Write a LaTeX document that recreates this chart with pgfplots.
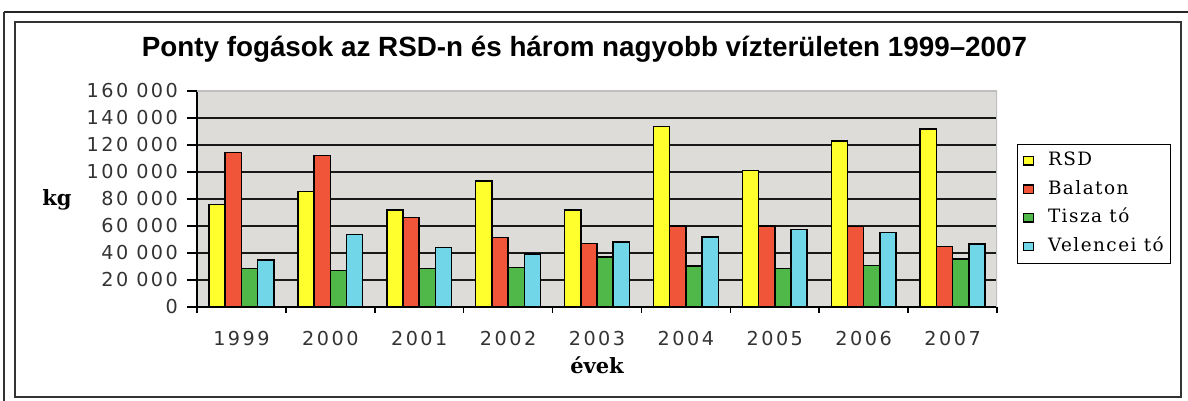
\documentclass[border=0pt]{standalone}
\usepackage{pgfplots}
\pgfplotsset{compat=1.18}
\usepackage{fontspec}
\setmainfont{DejaVu Serif}
\newfontfamily\tickfont[LetterSpace=13]{DejaVu Sans}
\newfontfamily\titlefont{Liberation Sans}
\newfontfamily\legfont[LetterSpace=8]{DejaVu Serif}
\definecolor{cY}{RGB}{255,255,46}
\definecolor{cR}{RGB}{240,85,58}
\definecolor{cG}{RGB}{80,184,72}
\definecolor{cC}{RGB}{112,214,232}
\definecolor{bg}{RGB}{222,220,216}
\newcommand\tsp{\hspace{4pt}}
\pgfplotsset{myleg/.style={legend image code/.code={\draw[##1,line width=0.7pt] (0pt,-1.9pt) rectangle (5pt,2.3pt);}}}
\begin{document}
\begin{tikzpicture}
\begin{axis}[
  at={(98.5pt,47pt)}, anchor=south west,
  scale only axis, width=400pt, height=108pt,
  ymin=0, ymax=160000, xmin=-0.5, xmax=8.5,
  ybar=0pt, bar width=8.1pt,
  axis x line*=bottom, axis y line*=left,
  axis line style={line width=0.8pt,-},
  axis background/.style={fill=bg},
  tick align=outside,
  major tick length=5pt, minor tick length=3pt,
  scaled y ticks=false,
  ytick={0,20000,40000,60000,80000,100000,120000,140000,160000},
  yticklabels={0,20\tsp000,40\tsp000,60\tsp000,80\tsp000,100\tsp000,120\tsp000,140\tsp000,160\tsp000},
  xtick={0,...,8},
  xticklabels={1999,2000,2001,2002,2003,2004,2005,2006,2007},
  minor xtick={-0.5,0.5,...,8.5},
  major x tick style={draw=none},
  minor x tick style={line width=0.8pt,black},
  major y tick style={line width=0.8pt,black},
  ymajorgrids,
  major grid style={line width=0.75pt,black!90},
  ticklabel style={font=\tickfont\fontsize{9.6}{11}\selectfont, text=black!80},
  xticklabel style={yshift=-3.5pt},
  yticklabel style={xshift=-1pt},
  xlabel={évek}, ylabel={kg},
  xlabel style={font=\bfseries\fontsize{10.5}{12}\selectfont, at={(rel axis cs:0.5,0)}, anchor=center, yshift=-29pt},
  ylabel style={font=\bfseries\fontsize{10.5}{12}\selectfont, rotate=-90, at={(rel axis cs:-0.175,0.495)}, anchor=center},
  legend style={at={(rel axis cs:1.025,0.7546)}, anchor=north west, draw=black, line width=0.6pt, fill=white,
    font=\legfont\fontsize{9.2}{10}\selectfont, row sep=3.8pt, column sep=6pt, inner xsep=2.5pt, inner ysep=3pt,
    nodes={inner sep=1pt, text height=6.5pt, text depth=2pt}},
  legend cell align=left,
]
\addplot[fill=cY, draw=black, line width=0.75pt, myleg] coordinates {(0,76000) (1,85500) (2,72000) (3,93500) (4,72000) (5,133800) (6,101000) (7,123000) (8,131800)};
\addplot[fill=cR, draw=black, line width=0.75pt, myleg] coordinates {(0,114600) (1,112300) (2,66300) (3,51500) (4,47000) (5,60000) (6,60000) (7,59700) (8,44800)};
\addplot[fill=cG, draw=black, line width=0.75pt, myleg] coordinates {(0,28500) (1,27000) (2,28500) (3,29200) (4,37000) (5,30500) (6,28700) (7,30700) (8,35600)};
\addplot[fill=cC, draw=black, line width=0.75pt, myleg] coordinates {(0,34700) (1,53800) (2,44100) (3,39400) (4,48000) (5,51900) (6,57500) (7,55000) (8,46500)};
\legend{RSD,Balaton,Tisza tó,Velencei tó}
\draw[black!25, line width=0.9pt] (rel axis cs:0,1) -- (rel axis cs:1,1) -- (rel axis cs:1,0);
\end{axis}
\node[font=\titlefont\bfseries\fontsize{13.9}{15}\selectfont, anchor=center] at (292.25pt,176pt) {Ponty fogások az RSD-n és három nagyobb vízterületen 1999–2007};
\draw[line width=0.7pt, black!80] (7.5pt,2pt) rectangle (590.5pt,189.5pt);
\draw[line width=0.7pt, black!80] (2pt,0pt) -- (2pt,194.5pt);
\draw[line width=1.3pt, black!85] (2pt,194.5pt) -- (594pt,194.5pt);
\pgfresetboundingbox
\useasboundingbox (0,0) rectangle (594pt,200.5pt);
\end{tikzpicture}
\end{document}
